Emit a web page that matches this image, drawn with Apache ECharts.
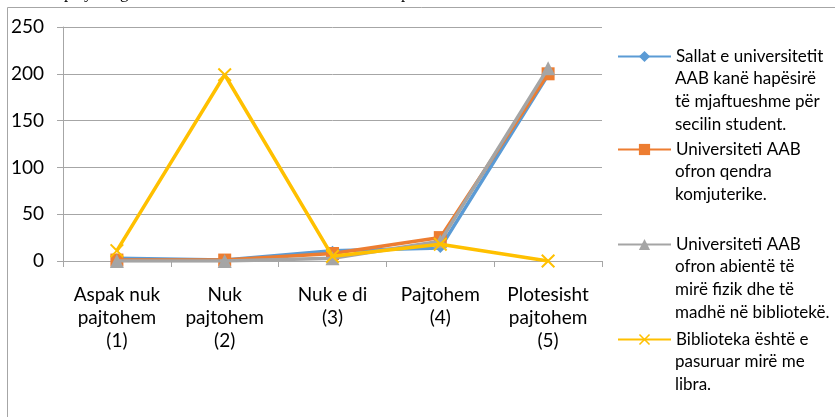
<!DOCTYPE html>
<html>
<head>
<meta charset="utf-8">
<script src="https://cdn.jsdelivr.net/npm/echarts@6/dist/echarts.min.js"></script>
<style>
html,body{margin:0;padding:0;background:#fff;}
#c{width:835px;height:417px;}
</style>
</head>
<body>
<div id="c"></div>
<script>
var categories = ["Aspak nuk\npajtohem\n(1)", "Nuk\npajtohem\n(2)", "Nuk e di\n(3)", "Pajtohem\n(4)", "Plotesisht\npajtohem\n(5)"];
var seriesNames = [
  "Sallat e universitetit\nAAB kanë hapësirë\ntë mjaftueshme për\nsecilin student.",
  "Universiteti AAB\nofron qendra\nkomjuterike.",
  "Universiteti AAB\nofron abientë të\nmirë fizik dhe të\nmadhë në bibliotekë.",
  "Biblioteka është e\npasuruar mirë me\nlibra."
];
var sallat = [3, 1, 11, 14, 199];
var qendra = [1, 1, 8, 25, 200];
var ambiente = [0, 0, 3, 21, 206];
var biblioteka = [11, 199, 5, 18, 0];
var yTicks = [0, 50, 100, 150, 200, 250];

var FONT = "Lato, 'Noto Sans', sans-serif";
var LEG_SIZE = 17;
var colors = ['#5B9BD5', '#ED7D31', '#A5A5A5', '#FFC000'];
var symbols = ['diamond', 'rect', 'triangle', 'path://M0,1L1,0L5,4L9,0L10,1L6,5L10,9L9,10L5,6L1,10L0,9L4,5Z'];
var symSizes = [10, 13, 14, 14];
var datas = [sallat, qendra, ambiente, biblioteka];
var iconY = [55, 148, 243, 338];
var LH = 23.3;

var chart = echarts.init(document.getElementById('c'));
var series = datas.map(function (d, i) {
  return {
    name: seriesNames[i],
    type: 'line',
    data: d,
    symbol: symbols[i],
    symbolSize: symSizes[i],
    showAllSymbol: true,
    lineStyle: { color: colors[i], width: 3.5 },
    itemStyle: { color: colors[i] },
    z: 2 + i,
    animation: false
  };
});
var legends = seriesNames.map(function (n, i) {
  return {
    data: [n],
    left: 617,
    top: iconY[i] - 7,
    orient: 'vertical',
    padding: 0,
    itemWidth: 53,
    itemHeight: 14,
    formatter: function (name) { return name.split('\n')[0]; },
    textStyle: { fontFamily: FONT, fontSize: LEG_SIZE, color: '#000', lineHeight: 14 }
  };
});
var graphics = [
  { type: 'line', shape: { x1: 7.5, y1: 7.5, x2: 835, y2: 7.5 }, style: { stroke: '#a6a6a6', lineWidth: 1 }, silent: true },
  { type: 'line', shape: { x1: 7.5, y1: 7.5, x2: 7.5, y2: 417 }, style: { stroke: '#a6a6a6', lineWidth: 1 }, silent: true },
  { type: 'text', x: 64, y: -15, style: { text: 'p', font: "17px 'Liberation Serif'", fill: '#000' }, silent: true },
  { type: 'text', x: 84, y: -15, style: { text: 'y', font: "17px 'Liberation Serif'", fill: '#000' }, silent: true },
  { type: 'text', x: 120, y: -15, style: { text: 'g', font: "17px 'Liberation Serif'", fill: '#000' }, silent: true },
  { type: 'text', x: 401, y: -15, style: { text: 'p', font: "17px 'Liberation Serif'", fill: '#000' }, silent: true }
];
seriesNames.forEach(function (n, i) {
  var lines = n.split('\n');
  for (var k = 1; k < lines.length; k++) {
    graphics.push({
      type: 'text', silent: true,
      x: 675, y: iconY[i] + k * LH,
      style: { text: lines[k], fontFamily: FONT, fontSize: LEG_SIZE, fill: '#000', verticalAlign: 'middle', align: 'left' }
    });
  }
});
chart.setOption({
  animation: false,
  color: colors,
  grid: { left: 63, right: 233, top: 27, bottom: 156 },
  xAxis: {
    type: 'category',
    data: categories,
    axisLine: { lineStyle: { color: '#a6a6a6', width: 1 } },
    axisTick: { show: true, length: 6, lineStyle: { color: '#a6a6a6' } },
    axisLabel: { fontFamily: FONT, fontSize: 19, color: '#000', lineHeight: 23, margin: 22, interval: 0 }
  },
  yAxis: {
    type: 'value',
    min: yTicks[0],
    max: yTicks[yTicks.length - 1],
    interval: 50,
    axisLine: { show: true, lineStyle: { color: '#a6a6a6', width: 1 } },
    axisTick: { show: true, length: 6, lineStyle: { color: '#a6a6a6' } },
    splitLine: { lineStyle: { color: '#a6a6a6', width: 1 } },
    axisLabel: { fontFamily: FONT, fontSize: 19, color: '#000', margin: 19 }
  },
  legend: legends,
  series: series,
  graphic: graphics
});
</script>
</body>
</html>
